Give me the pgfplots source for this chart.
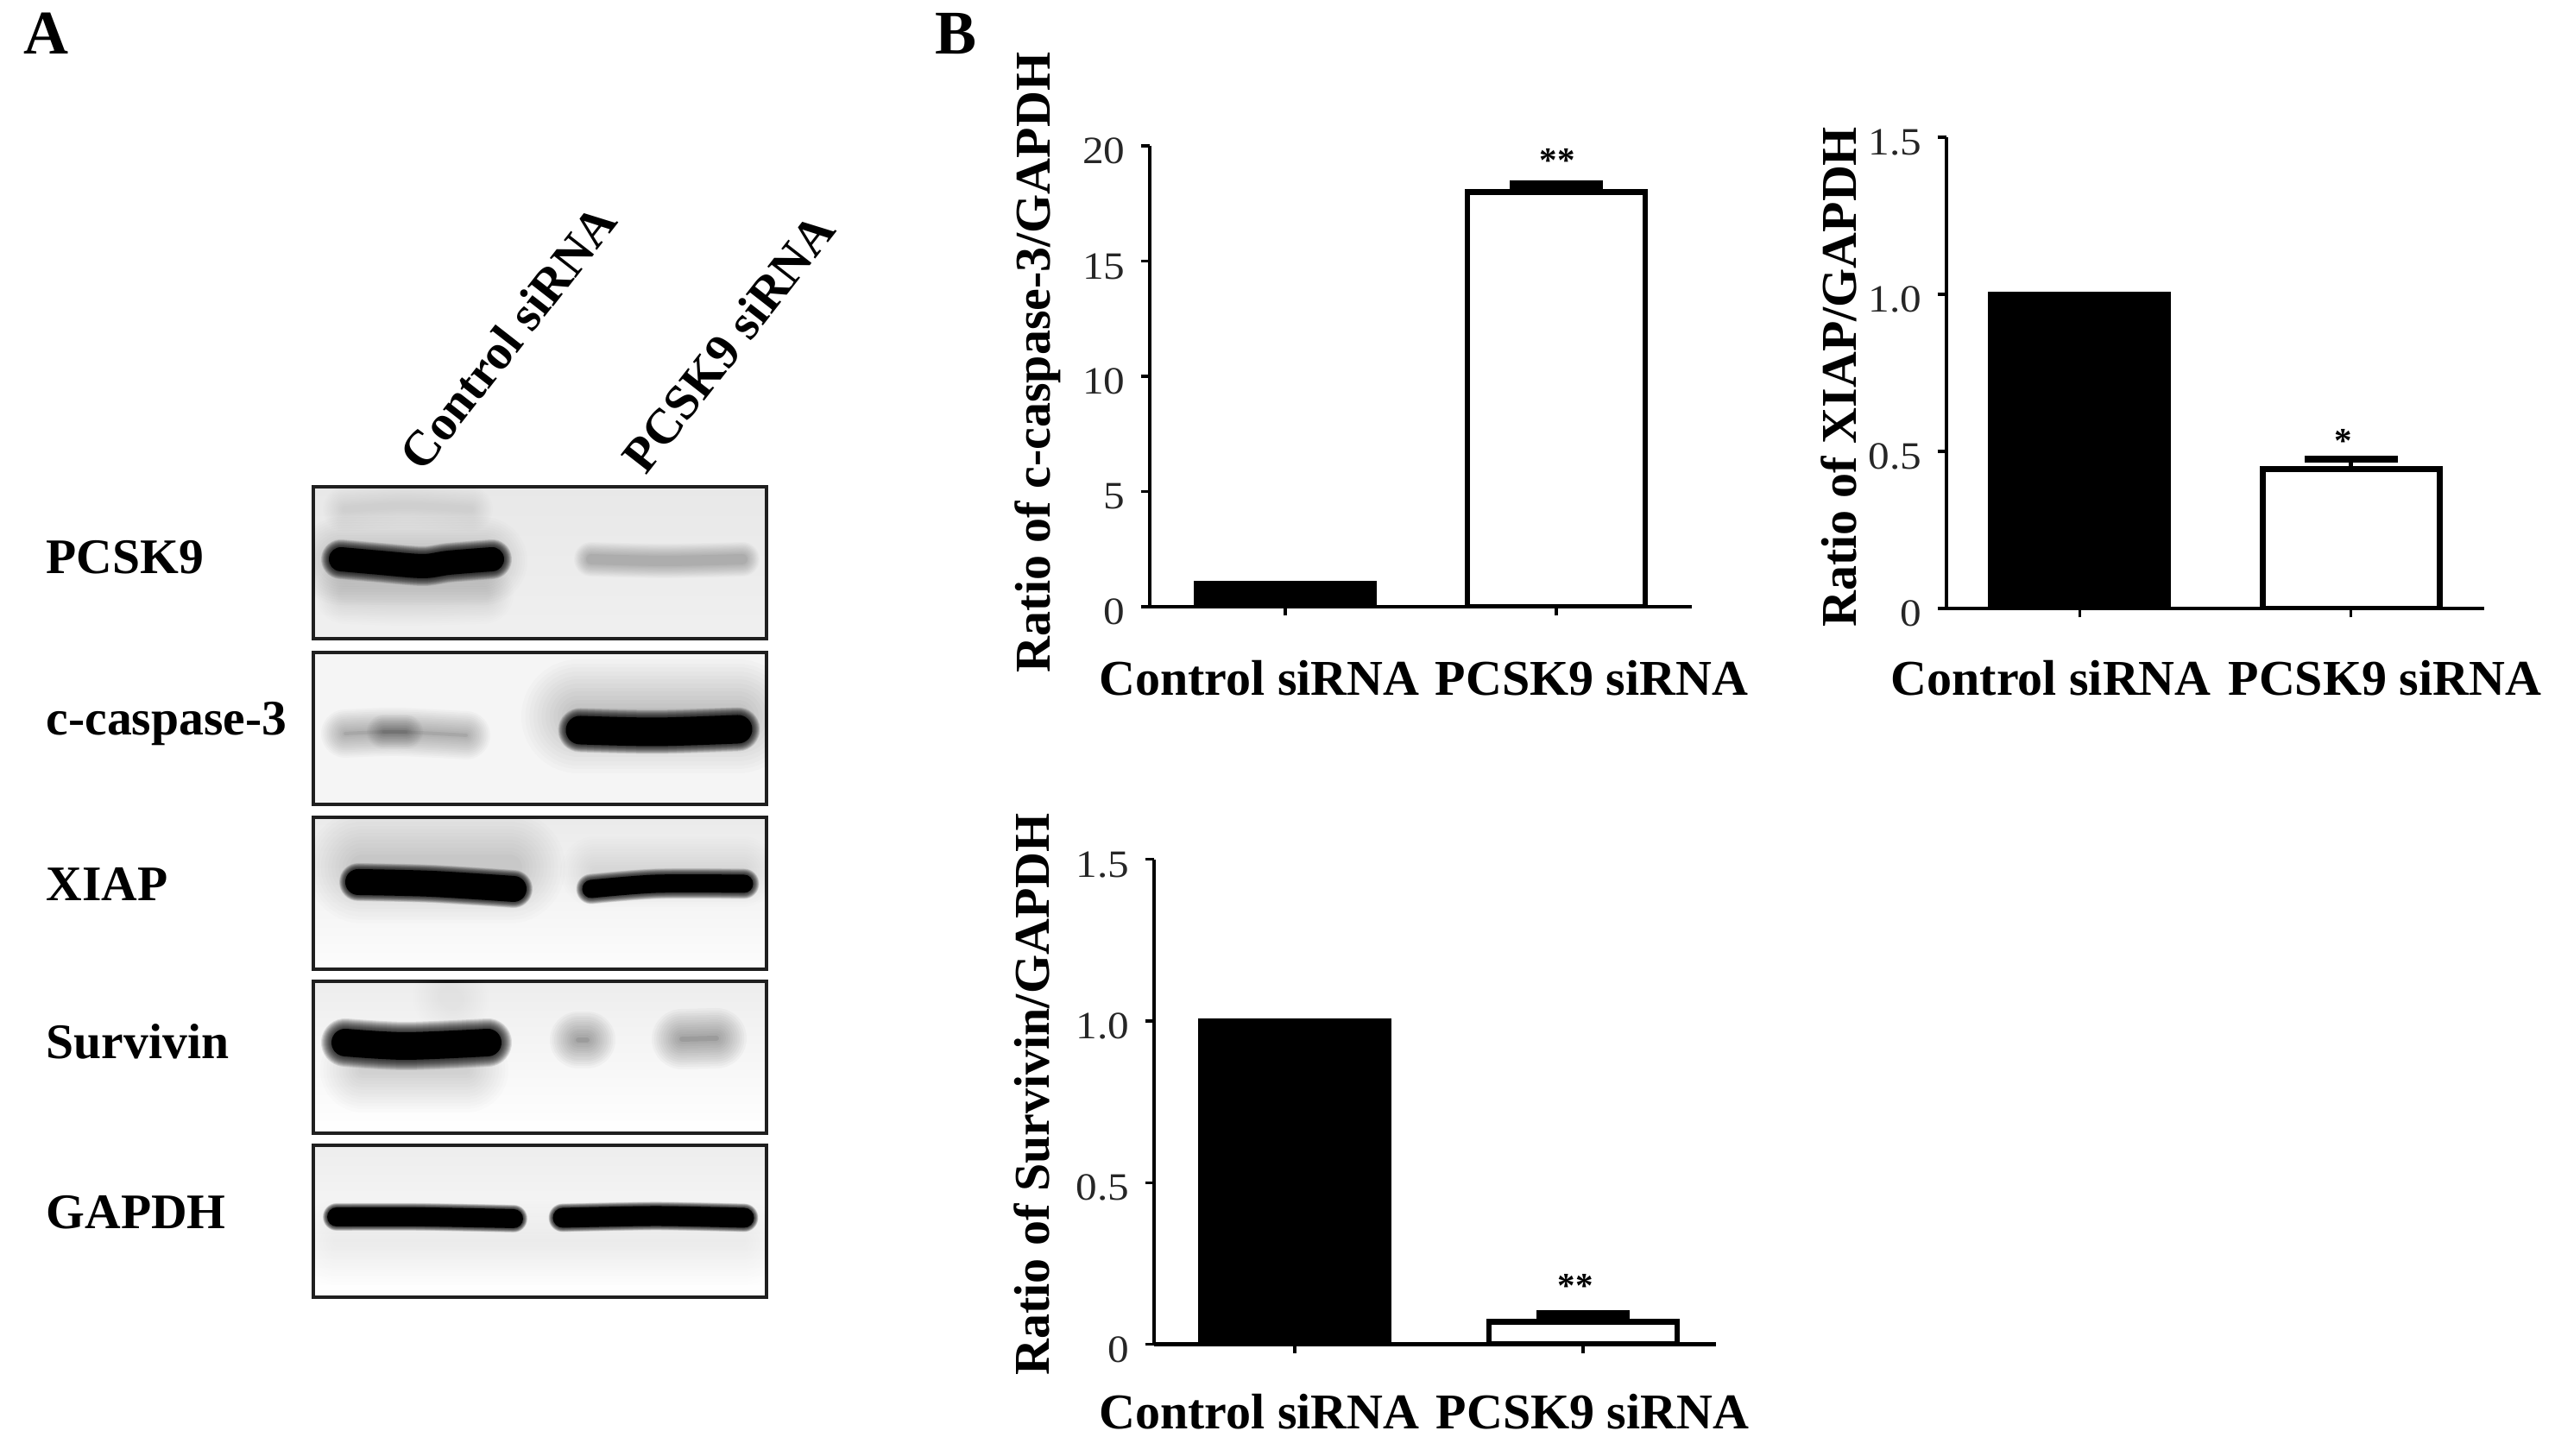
\documentclass[border=0pt]{standalone}
\usepackage{fontspec}
\setmainfont{Liberation Serif}
\newfontfamily\tickfont[FakeStretch=1.1]{Liberation Serif}
\usepackage{pgfplots}
\pgfplotsset{compat=1.18}
% a zero-width label moved sideways by half of the first argument
\newcommand\sh[2]{\makebox[0pt][c]{\hspace*{#1}\makebox[0pt][c]{#2}}}
\newcommand\band[4]{%
  \pgfplotsinvokeforeach{12,11,10,9,8,7,6,5,4,3,2,1}{%
    \addplot[black,forget plot,no markers,smooth,line cap=round,line join=round,
      line width={(#2+##1*#3/6)*0.25pt},opacity={#4*0.1}] coordinates {#1};}%
  \addplot[black,forget plot,no markers,smooth,line cap=round,line join=round,
      line width={#2*0.25pt},opacity={#4^2}] coordinates {#1};}
\pgfplotsset{
  blot/.style={scale only axis,width=131.25pt,height=44pt,xmin=363,xmax=888,y dir=reverse,
    xtick=\empty,ytick=\empty,axis line style={line width=1pt,color=black!88}},
  barax/.style={scale only axis,axis x line*=bottom,axis y line*=left,
    axis line style={line width=1.15pt,-},
    tick style={line width=.8pt,black},tick align=outside,major tick length=2.6pt,
    xtick={0,1},ybar,bar shift=0pt,
    y tick label style={font=\tickfont\fontsize{11.2}{12}\selectfont,text=black!85,yshift=-1.5pt,xshift=-1pt},
    x tick label style={font=\bfseries\fontsize{14.5}{16}\selectfont,anchor=base},
    label style={font=\bfseries\fontsize{14.5}{16}\selectfont},
    enlargelimits=false},
  blackbar/.style={fill=black,draw=black,line width=1.7pt},
  whitebar/.style={fill=white,draw=black,line width=1.7pt,
    error bars/.cd,y dir=plus,y explicit,error bar style={line width=1.3pt,black},
    error mark options={line width=#1,black,mark size=13.5pt,rotate=90}},
}
\begin{document}
\begin{tikzpicture}
\useasboundingbox (0,0) rectangle (740pt,421.75pt);
% ---------------- panel letters
\newcommand\lab[4][0]{\node[anchor=base west,inner sep=0pt,rotate=#1,font=\bfseries\fontsize{14.4}{16}\selectfont] at ({#2*0.25pt},{(1687-#3)*0.25pt}) {#4};}
\node[anchor=base west,inner sep=0pt,font=\bfseries\fontsize{18}{20}\selectfont] at ({27*0.25pt},{(1687-63)*0.25pt}) {A};
\node[anchor=base west,inner sep=0pt,font=\bfseries\fontsize{18}{20}\selectfont] at ({1083*0.25pt},{(1687-63)*0.25pt}) {B};
\lab[52]{490}{549}{Control siRNA}
\lab[52]{748}{552}{PCSK9 siRNA}
\lab{53}{665}{PCSK9}
\lab{53}{852}{c-caspase-3}
\lab{53}{1044}{XIAP}
\lab{53}{1227}{Survivin}
\lab{53}{1424}{GAPDH}
% ---------------- blots
\begin{axis}[blot,at={(90.75pt,236.75pt)},anchor=south west,ymin=564,ymax=740,
  axis background/.style={top color=black!9,bottom color=black!6}]
\band{(400,590)(470,586)(545,590)}{8}{22}{.09}
\band{(395,650)(560,650)}{30}{36}{.1}
\band{(400,688)(470,690)(560,688)}{14}{28}{.06}
\band{(395,648)(440,652)(490,656)(520,652)(570,648)}{28}{9}{1}
\band{(685,648)(770,650)(860,648)}{12}{14}{.2}
\end{axis}
\begin{axis}[blot,at={(90.75pt,188.75pt)},anchor=south west,ymin=756,ymax=932,
  axis background/.style={top color=black!4,bottom color=black!4}]
\band{(400,850)(460,848)(540,852)}{4}{26}{.25}
\band{(445,848)(470,848)}{4}{18}{.22}
\band{(670,830)(855,830)}{20}{56}{.16}
\band{(672,846)(760,848)(855,845)}{33}{9}{1}
\end{axis}
\begin{axis}[blot,at={(90.75pt,141pt)},anchor=south west,ymin=947,ymax=1123,
  axis background/.style={top color=black!8,bottom color=black!1}]
\band{(420,1005)(590,1005)}{30}{50}{.12}
\band{(690,1010)(860,1010)}{10}{36}{.08}
\band{(415,1022)(500,1024)(595,1030)}{30}{7}{1}
\band{(685,1030)(760,1024)(862,1024)}{21}{7}{1}
\end{axis}
\begin{axis}[blot,at={(90.75pt,93.5pt)},anchor=south west,ymin=1137,ymax=1313,
  axis background/.style={top color=black!7,bottom color=white}]
\band{(520,1155)(525,1158)}{24}{30}{.05}
\band{(420,1240)(540,1240)}{10}{44}{.1}
\band{(400,1208)(470,1212)(565,1208)}{32}{12}{1}
\band{(670,1205)(680,1205)}{6}{30}{.28}
\band{(790,1204)(830,1203)}{6}{32}{.28}
\end{axis}
\begin{axis}[blot,at={(90.75pt,46pt)},anchor=south west,ymin=1327,ymax=1503,
  axis background/.style={top color=black!7,bottom color=white}]
\band{(390,1440)(860,1440)}{10}{44}{.05}
\band{(390,1410)(490,1410)(595,1412)}{22}{5}{1}
\band{(652,1411)(760,1409)(862,1411)}{23}{5}{1}
\end{axis}
% ---------------- c-caspase-3
\begin{axis}[barax,at={(333pt,246pt)},anchor=south west,bar width=51.5pt,
  width=157pt,height=133.5pt,xmin=-0.5,xmax=1.5,ymin=0,ymax=20,ytick={0,5,10,15,20},
  yticklabels={0,5,10,15,20},
  xticklabels={\sh{-15pt}{Control siRNA},\sh{20.5pt}{PCSK9 siRNA}},
  x tick label style={yshift=-23pt},
  ylabel={Ratio of c-caspase-3/GAPDH},
  y label style={at={(rel axis cs:-0.1847,0.53)},anchor=base}]
\addplot[blackbar] coordinates {(0,1)};
\addplot[whitebar=2.8pt] coordinates {(1,18) +- (0,0.3)};
\end{axis}
% ---------------- XIAP
\begin{axis}[barax,at={(563.75pt,245.5pt)},anchor=south west,bar width=51.25pt,
  width=155.75pt,height=136.5pt,xmin=-0.49,xmax=1.49,ymin=0,ymax=1.5,ytick={0,0.5,1,1.5},
  yticklabels={0,0.5,1.0,1.5},
  xticklabels={\sh{-16.5pt}{Control siRNA},\sh{19.5pt}{PCSK9 siRNA}},
  x tick label style={yshift=-22.5pt},
  ylabel={Ratio of XIAP/GAPDH},
  y label style={at={(rel axis cs:-0.1685,0.491)},anchor=base}]
\addplot[blackbar] coordinates {(0,1)};
\addplot[whitebar=2pt] coordinates {(1,0.444) +- (0,0.03)};
\end{axis}
% ---------------- Survivin
\begin{axis}[barax,at={(334.25pt,32.375pt)},anchor=south west,bar width=54.5pt,
  width=162.75pt,height=140.4pt,xmin=-0.488,xmax=1.461,ymin=0,ymax=1.5,ytick={0,0.5,1,1.5},
  yticklabels={0,0.5,1.0,1.5},
  xticklabels={\sh{-20.5pt}{Control siRNA},\sh{5.5pt}{PCSK9 siRNA}},
  x tick label style={yshift=-22pt},
  ylabel={Ratio of Survivin/GAPDH},
  y label style={at={(rel axis cs:-0.1874,0.5156)},anchor=base}]
\addplot[blackbar] coordinates {(0,1)};
\addplot[whitebar=2.8pt] coordinates {(1,0.07) +- (0,0.02)};
\end{axis}
% ---------------- significance marks
\newcommand\sig[3]{\node[anchor=base,inner sep=0pt,font=\bfseries\fontsize{10.25}{12}\selectfont] at ({#1*0.25pt},{(1687-#2)*0.25pt}) {#3};}
\sig{1804}{200}{**}
\sig{2715}{525}{*}
\sig{1825}{1504}{**}
\end{tikzpicture}
\end{document}
